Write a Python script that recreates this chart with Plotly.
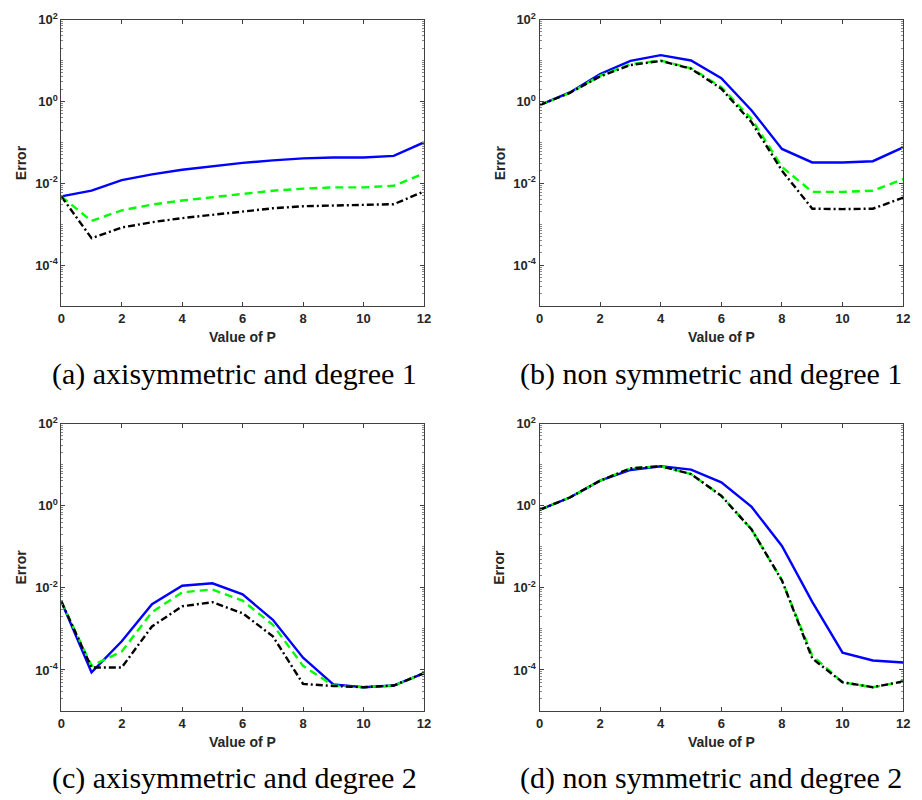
import plotly.graph_objects as go

P = list(range(13))

# log10 of error values
a_blue  = [-2.32, -2.18, -1.92, -1.78, -1.67, -1.58, -1.50, -1.44, -1.39, -1.37, -1.37, -1.33, -1.00]
a_green = [-2.32, -2.92, -2.66, -2.52, -2.42, -2.34, -2.26, -2.18, -2.13, -2.10, -2.10, -2.06, -1.76]
a_black = [-2.32, -3.34, -3.08, -2.95, -2.85, -2.77, -2.68, -2.61, -2.56, -2.54, -2.53, -2.51, -2.20]

b_blue  = [-0.09, 0.22, 0.67, 0.99, 1.13, 1.00, 0.57, -0.22, -1.16, -1.49, -1.49, -1.46, -1.12]
b_green = [-0.09, 0.21, 0.63, 0.91, 1.00, 0.81, 0.35, -0.43, -1.60, -2.21, -2.21, -2.18, -1.90]
b_black = [-0.09, 0.21, 0.61, 0.89, 0.99, 0.80, 0.31, -0.51, -1.69, -2.62, -2.63, -2.62, -2.35]

c_blue  = [-2.33, -4.06, -3.30, -2.40, -1.95, -1.89, -2.16, -2.78, -3.70, -4.35, -4.42, -4.38, -4.08]
c_green = [-2.33, -3.90, -3.55, -2.59, -2.11, -2.04, -2.31, -2.90, -3.90, -4.38, -4.42, -4.38, -4.08]
c_black = [-2.33, -3.94, -3.94, -2.94, -2.45, -2.35, -2.62, -3.18, -4.34, -4.39, -4.42, -4.38, -4.08]

d_blue  = [-0.10, 0.20, 0.61, 0.87, 0.96, 0.88, 0.57, -0.03, -0.98, -2.34, -3.58, -3.77, -3.82]
d_green = [-0.10, 0.20, 0.61, 0.91, 0.96, 0.77, 0.24, -0.58, -1.82, -3.65, -4.30, -4.42, -4.28]
d_black = [-0.10, 0.20, 0.61, 0.91, 0.96, 0.77, 0.24, -0.58, -1.82, -3.72, -4.30, -4.42, -4.28]

captions = ["(a) axisymmetric and degree 1", "(b) non symmetric and degree 1",
            "(c) axisymmetric and degree 2", "(d) non symmetric and degree 2"]
x_title = "Value of P"
y_title = "Error"

x_ticks = [0, 2, 4, 6, 8, 10, 12]
y_tickvals = [1e-4, 1e-2, 1, 1e2]
y_ticktext = ["10<sup>-4</sup>", "10<sup>-2</sup>", "10<sup>0</sup>", "10<sup>2</sup>"]

panels = [
    (a_blue, a_green, a_black),
    (b_blue, b_green, b_black),
    (c_blue, c_green, c_black),
    (d_blue, d_green, d_black),
]

W, H = 922, 800
xpix = [[58, 425], [542, 910]]
ypix = [[10.7, 300.5], [419.3, 710]]
xdoms = [[a / W, b / W] for a, b in xpix]
ydoms = [[1 - b / H, 1 - a / H] for a, b in ypix]

AX = "#404040"
tickfont = dict(family="Liberation Sans", size=13, color="#262626", weight="bold")
titlefont = dict(family="Liberation Sans", size=14, color="#262626", weight="bold")

minor_vals = [k * 10.0 ** e for e in range(-5, 2) for k in range(2, 10)]
major_all = [10.0 ** e for e in range(-5, 3)]

fig = go.Figure()
layout = dict(width=W, height=H, margin=dict(l=0, r=0, t=0, b=0),
              paper_bgcolor="white", plot_bgcolor="white", showlegend=False)
annotations = []

for i, (bl, gr, bk) in enumerate(panels):
    row, col = divmod(i, 2)
    xa = "x" if i == 0 else f"x{i+1}"
    ya = "y" if i == 0 else f"y{i+1}"
    styles = [(bl, "#0000ff", "solid"), (gr, "#00ff00", "8px,5px"), (bk, "#000000", "7px,3px,2px,3px")]
    for vals, colr, dash in styles:
        fig.add_trace(go.Scatter(x=P, y=[10 ** v for v in vals], mode="lines",
                                 line=dict(color=colr, width=2.4, dash=dash),
                                 xaxis=xa, yaxis=ya))
    xkey = "xaxis" if i == 0 else f"xaxis{i+1}"
    ykey = "yaxis" if i == 0 else f"yaxis{i+1}"
    layout[xkey] = dict(domain=xdoms[col], anchor=ya, range=[0, 12],
                        tickvals=x_ticks, ticks="inside", ticklen=4, tickcolor=AX,
                        showline=True, linecolor=AX, linewidth=1, mirror="ticks",
                        showgrid=False, zeroline=False, tickfont=tickfont)
    layout[ykey] = dict(domain=ydoms[row], anchor=xa, type="log", range=[-5, 2],
                        tickvals=y_tickvals, ticktext=y_ticktext,
                        ticks="inside", ticklen=4, tickcolor=AX,
                        minor=dict(tickvals=minor_vals + major_all, ticks="inside", ticklen=2, tickcolor="#888888"),
                        showline=True, linecolor=AX, linewidth=1, mirror="ticks",
                        showgrid=False, zeroline=False, tickfont=tickfont)
    x0, x1 = xpix[col]
    y0, y1 = ypix[row]
    cxp = (x0 + x1) / 2
    # x-axis title
    annotations.append(dict(text=x_title, x=cxp / W, y=1 - (y1 + 31.5) / H, xref="paper", yref="paper",
                            xanchor="center", yanchor="middle", showarrow=False, font=titlefont))
    # y-axis title
    annotations.append(dict(text=y_title, x=(x0 - 40.5) / W, y=1 - ((y0 + y1) / 2) / H, xref="paper", yref="paper",
                            xanchor="center", yanchor="middle", showarrow=False, textangle=-90, font=titlefont))
    # caption
    capx = [233, 716][col]
    capy = [369, 778][row]
    annotations.append(dict(text=captions[i], x=capx / W, y=1 - capy / H, xref="paper", yref="paper",
                            xanchor="center", yanchor="middle", showarrow=False,
                            font=dict(family="Liberation Serif", size=30, color="black")))

layout["annotations"] = annotations
fig.update_layout(**layout)
fig.write_html("out.html")
